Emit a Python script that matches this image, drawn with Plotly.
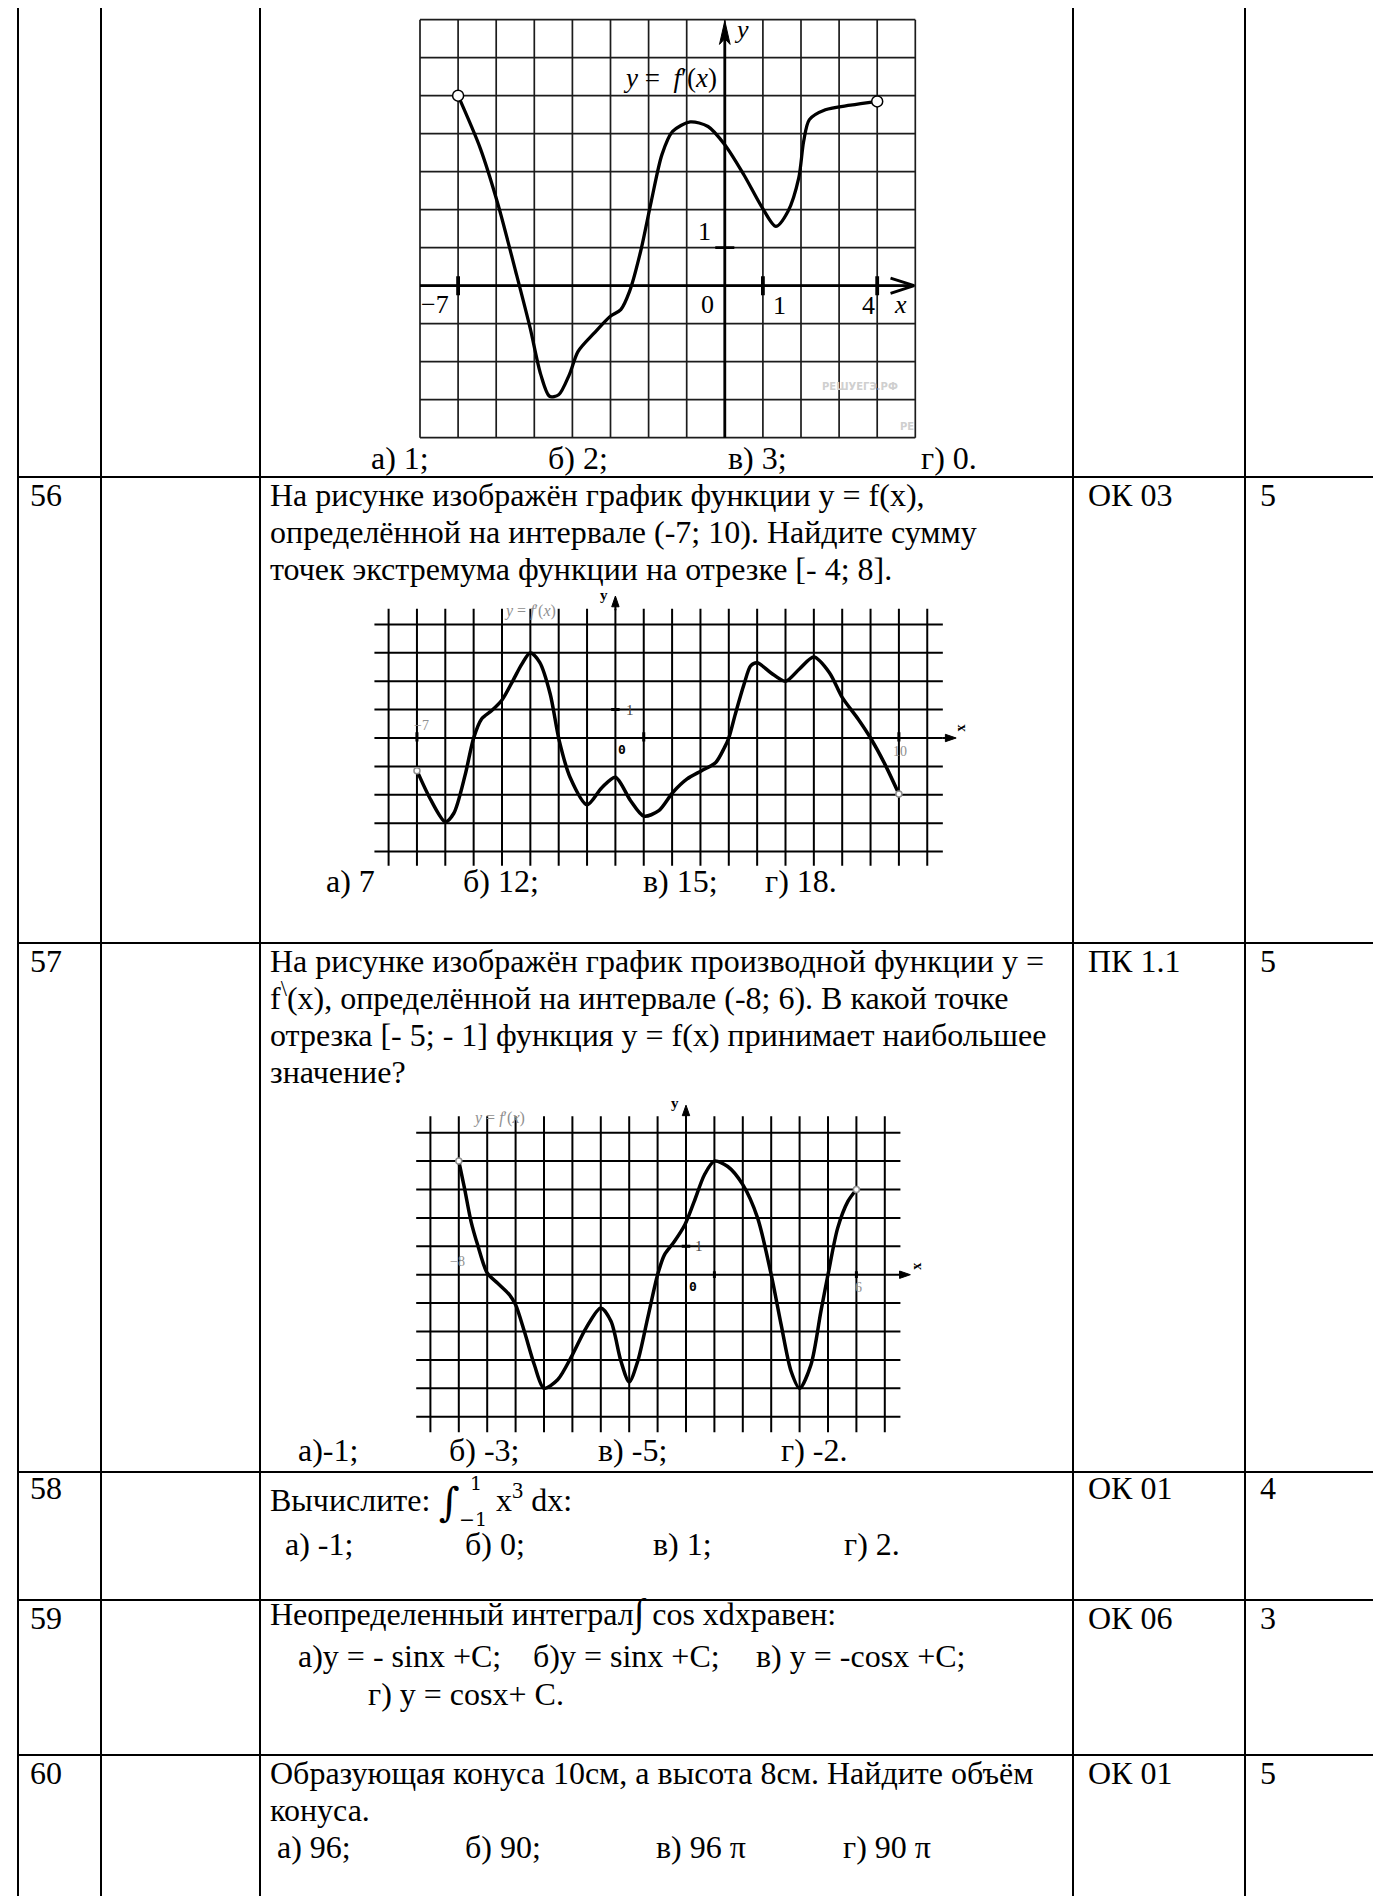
import plotly.graph_objects as go

W, H = 1381, 1896
SERIF = "Liberation Serif, Times New Roman, serif"
MATH = "DejaVu Serif, serif"
GREY = "#8f8f8f"

# ---- graph of the task above 56: y = f'(x) on (-7; 4)
g1_x = [-7.0, -6.42, -5.95, -5.49, -5.11, -4.83, -4.6, -4.36, -4.08, -3.85, -3.43, -3.01, -2.73, -2.5,
        -2.21, -1.93, -1.65, -1.37, -0.91, -0.44, 0.0, 0.5, 0.99, 1.34, 1.66, 1.94, 2.07, 2.22, 2.64, 3.3, 4.0]
g1_y = [5.0, 3.62, 2.13, 0.38, -1.11, -2.34, -2.91, -2.87, -2.34, -1.73, -1.25, -0.81, -0.63, -0.15,
        0.9, 2.22, 3.45, 4.06, 4.31, 4.19, 3.71, 2.92, 2.04, 1.56, 1.96, 2.83, 3.8, 4.37, 4.63, 4.75, 4.85]
g1_ticks = [-7, 1, 4]

# ---- graph of task 56, on (-7; 10)
g2_x = [-7.0, -6.5, -6.0, -5.7, -5.3, -5.0, -4.72, -4.37, -4.0, -3.6, -3.3, -3.0, -2.67, -2.3, -1.98,
        -1.6, -1.0, -0.48, 0.0, 0.53, 1.0, 1.53, 2.03, 2.53, 3.04, 3.54, 3.85, 4.0, 4.23, 4.54, 4.77,
        5.0, 5.48, 6.0, 6.49, 7.0, 7.55, 8.0, 8.56, 9.0, 9.5, 10.0]
g2_y = [-1.15, -2.2, -2.95, -2.65, -1.3, 0.0, 0.67, 0.96, 1.34, 2.05, 2.6, 3.0, 2.66, 1.55, -0.1,
        -1.38, -2.35, -1.75, -1.38, -2.2, -2.75, -2.56, -1.91, -1.44, -1.15, -0.86, -0.33, 0.0, 0.84,
        1.9, 2.54, 2.65, 2.3, 2.0, 2.43, 2.85, 2.3, 1.43, 0.67, 0.0, -0.91, -1.97]

# ---- graph of task 57, on (-8; 6)
g3_x = [-8.0, -7.8, -7.57, -7.34, -7.0, -6.63, -6.22, -6.0, -5.69, -5.34, -5.0, -4.52, -4.0, -3.52,
        -3.0, -2.64, -2.29, -2.0, -1.7, -1.35, -1.0, -0.76, -0.41, -0.04, 0.29, 0.65, 1.0, 1.47, 2.0,
        2.52, 3.0, 3.35, 3.7, 4.0, 4.4, 4.75, 5.0, 5.34, 5.7, 6.0]
g3_y = [4.0, 3.05, 1.88, 1.06, 0.06, -0.3, -0.7, -1.06, -2.0, -3.17, -4.0, -3.7, -2.82, -1.88, -1.17,
        -1.64, -3.05, -3.78, -3.05, -1.53, 0.0, 0.7, 1.17, 1.76, 2.58, 3.52, 4.0, 3.81, 3.17, 2.0, 0.0,
        -1.76, -3.4, -4.0, -3.17, -1.29, 0.0, 1.64, 2.58, 3.0]

# ---- table text
row_numbers = ["56", "57", "58", "59", "60"]
codes = ["ОК 03", "ПК 1.1", "ОК 01", "ОК 06", "ОК 01"]
points = ["5", "5", "4", "3", "5"]

q56 = ["На рисунке изображён график функции y = f(x),",
       "определённой на интервале (-7; 10). Найдите сумму",
       "точек экстремума функции на отрезке [- 4; 8]."]
q57 = ["На рисунке изображён график производной функции y =",
       "f<sup>\\</sup>(x), определённой на интервале (-8; 6). В какой точке",
       "отрезка [- 5; - 1] функция y = f(x) принимает наибольшее",
       "значение?"]
q59 = "Неопределенный интеграл<span style='font-size:38px'>∫</span> cos xdxравен:"
q60 = ["Образующая конуса 10см, а высота 8см. Найдите объём", "конуса."]

answers_55 = ["а) 1;", "б) 2;", "в) 3;", "г) 0."]
answers_56 = ["а) 7", "б) 12;", "в) 15;", "г) 18."]
answers_57 = ["а)-1;", "б) -3;", "в) -5;", "г) -2."]
answers_58 = ["а) -1;", "б) 0;", "в) 1;", "г) 2."]
answers_59 = ["а)y = - sinx +C;", "б)y = sinx +C;", "в) y = -cosx +C;", "г) y = cosx+ C."]
answers_60 = ["а) 96;", "б) 90;", "в) 96 π", "г) 90 π"]

# ---- page geometry (pixels)
COLS = [10, 93, 252, 1065, 1237]
ROW_TOPS = [469, 935, 1464, 1592, 1747]
LINE = 37
NUM_X, Q_X, CODE_X, PTS_X = 22, 262, 1080, 1252

fig = go.Figure()
shapes = []
notes = []


def page_text(s, x, base, size=32, family=SERIF, color="black", anchor="left"):
    notes.append(dict(text=s, xref="paper", yref="paper", x=x / W, y=1 - (base + 0.216 * size) / H,
                      xanchor=anchor, yanchor="bottom", showarrow=False, borderpad=0, borderwidth=0,
                      font=dict(family=family, size=size, color=color)))


def rule(x0, y0, x1, y1, width=2):
    shapes.append(dict(type="line", xref="paper", yref="paper", x0=x0 / W, y0=1 - y0 / H,
                       x1=x1 / W, y1=1 - y1 / H, layer="above", line=dict(color="black", width=width)))


def seg(ref, x0, y0, x1, y1, width=2, color="black"):
    shapes.append(dict(type="line", xref="x" + ref, yref="y" + ref, x0=x0, y0=y0, x1=x1, y1=y1,
                       layer="below", line=dict(color=color, width=width)))


def head(ref, path):
    shapes.append(dict(type="path", xref="x" + ref, yref="y" + ref, path=path, layer="above",
                       fillcolor="black", line=dict(color="black", width=1)))


def label(ref, s, x, y, size=22, color="black", family=SERIF, angle=0):
    notes.append(dict(text=s, xref="x" + ref, yref="y" + ref, x=x, y=y, showarrow=False,
                      xanchor="center", yanchor="middle", textangle=angle, borderpad=0,
                      font=dict(family=family, size=size, color=color)))


def panel(ref, x0, ux, xr, y0, uy, yr):
    left, right = x0 + xr[0] * ux, x0 + xr[1] * ux
    top, bottom = y0 - yr[1] * uy, y0 - yr[0] * uy
    fig.update_layout({
        "xaxis" + ref: dict(domain=[left / W, right / W], range=list(xr), visible=False, anchor="y" + ref),
        "yaxis" + ref: dict(domain=[1 - bottom / H, 1 - top / H], range=list(yr), visible=False,
                            anchor="x" + ref),
    })


def curve(ref, xs, ys, width, msize, mcolor):
    fig.add_trace(go.Scatter(x=xs, y=ys, xaxis="x" + ref, yaxis="y" + ref, mode="lines",
                             line=dict(color="black", width=width, shape="spline", smoothing=0.8),
                             hoverinfo="skip"))
    fig.add_trace(go.Scatter(x=[xs[0], xs[-1]], y=[ys[0], ys[-1]], xaxis="x" + ref, yaxis="y" + ref,
                             mode="markers", cliponaxis=False, hoverinfo="skip",
                             marker=dict(size=msize, color="white", line=dict(color=mcolor, width=1.5))))


# ================= graph 1 =================
panel("", 716.8, 38.1, (-8.2, 5.2), 277.7, 38.0, (-4.2, 7.2))
for gx in range(-8, 6):
    seg("", gx, -4, gx, 7, 1.7, "#1c1c1c")
for gy in range(-4, 8):
    seg("", -8, gy, 5, gy, 1.7, "#1c1c1c")
seg("", -8, 0, 4.95, 0, 2.8)
seg("", 0, -4, 0, 6.6, 2.8)
seg("", 4.35, 0.2, 4.97, 0, 2.8)
seg("", 4.35, -0.2, 4.97, 0, 2.8)
head("", "M 0 6.97 L -0.14 6.35 L 0 6.5 L 0.14 6.35 Z")
for t in g1_ticks:
    seg("", t, -0.25, t, 0.25, 3.8)
seg("", -0.25, 1, 0.25, 1, 2.8)
curve("", g1_x, g1_y, 3.3, 11, "black")
label("", "−7", -7.6, -0.5, 26)
label("", "0", -0.45, -0.5, 26)
label("", "1", 1.43, -0.52, 26)
label("", "4", 3.77, -0.52, 26)
label("", "<i>x</i>", 4.6, -0.5, 26)
label("", "1", -0.53, 1.43, 26)
label("", "<i>y</i>", 0.45, 6.75, 26)
label("", "<i>y</i> =  <i>f</i>′(<i>x</i>)", -1.45, 5.47, 27)
label("", "<b>РЕШУЕГЭ.РФ</b>", 3.55, -2.65, 10, "#cfcfcf", "DejaVu Sans")
label("", "<b>РЕ</b>", 4.78, -3.7, 10, "#cfcfcf", "DejaVu Sans")

# ================= graph 2 =================
panel("2", 607.4, 28.35, (-8.8, 12.6), 730.0, 28.4, (-4.8, 5.4))
for gx in range(-8, 12):
    seg("2", gx, -4.5, gx, 4.55, 2)
for gy in range(-4, 5):
    seg("2", -8.5, gy, 11.55, gy, 2)
seg("2", 0, 4.5, 0, 4.7, 2)
seg("2", 11.55, 0, 11.7, 0, 2)
head("2", "M 0 5.0 L -0.13 4.62 L 0.13 4.62 Z")
head("2", "M 12.02 0 L 11.64 0.13 L 11.64 -0.13 Z")
for t in [-7, 1, 10]:
    seg("2", t, -0.12, t, 0.2, 3)
seg("2", -0.15, 1, 0.15, 1, 3)
curve("2", g2_x, g2_y, 3.5, 6, GREY)
label("2", "<i>y</i> = <i>f</i>′(<i>x</i>)", -3.0, 4.47, 16, GREY)
label("2", "<b>y</b>", -0.4, 5.05, 15)
label("2", "<b>x</b>", 12.17, 0.35, 14, angle=-90)
label("2", "−7", -6.85, 0.45, 14, GREY)
label("2", "1", 0.5, 1.0, 15, "#444")
label("2", "<b>0</b>", 0.22, -0.4, 13, "black", "DejaVu Sans Mono")
label("2", "10", 10.05, -0.47, 14, GREY)

# ================= graph 3 =================
panel("3", 678.0, 28.4, (-9.8, 8.6), 1266.7, 28.4, (-5.8, 6.3))
for gx in range(-9, 8):
    seg("3", gx, -5.55, gx, 5.58, 2)
for gy in range(-5, 6):
    seg("3", -9.5, gy, 7.55, gy, 2)
seg("3", 0, 5.5, 0, 5.7, 2)
seg("3", 7.5, 0, 7.6, 0, 2)
head("3", "M 0 5.97 L -0.13 5.6 L 0.13 5.6 Z")
head("3", "M 7.9 0 L 7.52 0.13 L 7.52 -0.13 Z")
for t in [1, 6]:
    seg("3", t, -0.12, t, 0.12, 3)
seg("3", -0.15, 1, 0.15, 1, 3)
curve("3", g3_x, g3_y, 3.5, 6, GREY)
label("3", "<i>y</i> = <i>f</i>′(<i>x</i>)", -6.57, 5.52, 16, GREY)
label("3", "<b>y</b>", -0.4, 6.05, 15)
label("3", "<b>x</b>", 8.12, 0.3, 14, angle=-90)
label("3", "−8", -8.05, 0.47, 14, GREY)
label("3", "1", 0.45, 1.0, 15, "#444")
label("3", "<b>0</b>", 0.24, -0.41, 13, "black", "DejaVu Sans Mono")
label("3", "6", 6.06, -0.45, 14, GREY)

# ================= table =================
for c in COLS:
    rule(c, 0, c, H)
for r in ROW_TOPS:
    rule(COLS[0], r, W, r)

first = [r + 29 for r in ROW_TOPS]
first[2] = ROW_TOPS[2] + 27
for i, top in enumerate(ROW_TOPS):
    page_text(row_numbers[i], NUM_X, first[i])
    page_text(codes[i], CODE_X, first[i])
    page_text(points[i], PTS_X, first[i])

# answers under graph 1
for s, x in zip(answers_55, [363, 540, 720, 913]):
    page_text(s, x, 461)

# task 56
for k, s in enumerate(q56):
    page_text(s, Q_X, first[0] + k * LINE)
for s, x in zip(answers_56, [318, 455, 635, 757]):
    page_text(s, x, 884)

# task 57
for k, s in enumerate(q57):
    page_text(s, Q_X, first[1] + k * LINE)
for s, x in zip(answers_57, [290, 441, 590, 773]):
    page_text(s, x, 1453)

# task 58: integral with limits
page_text("Вычислите:", Q_X, 1503)
page_text("∫", 431, 1508, 40, MATH)
page_text("1", 462, 1482, 19, MATH)
page_text("−1", 451, 1518, 19, MATH)
page_text("x<sup>3</sup> dx:", 488, 1503)
for s, x in zip(answers_58, [277, 457, 645, 836]):
    page_text(s, x, 1547)

# task 59
page_text(q59, Q_X, first[3])
for s, x in zip(answers_59[:3], [290, 525, 748]):
    page_text(s, x, first[3] + LINE + 1)
page_text(answers_59[3], 360, first[3] + 2 * LINE + 2)

# task 60
for k, s in enumerate(q60):
    page_text(s, Q_X, first[4] + k * LINE)
for s, x in zip(answers_60, [269, 457, 648, 835]):
    page_text(s, x, first[4] + 2 * LINE)

fig.update_layout(
    width=W, height=H,
    margin=dict(l=0, r=0, t=0, b=0),
    paper_bgcolor="white", plot_bgcolor="rgba(0,0,0,0)",
    showlegend=False,
    shapes=shapes, annotations=notes,
)
fig.write_html("out.html", config={"displayModeBar": False})
